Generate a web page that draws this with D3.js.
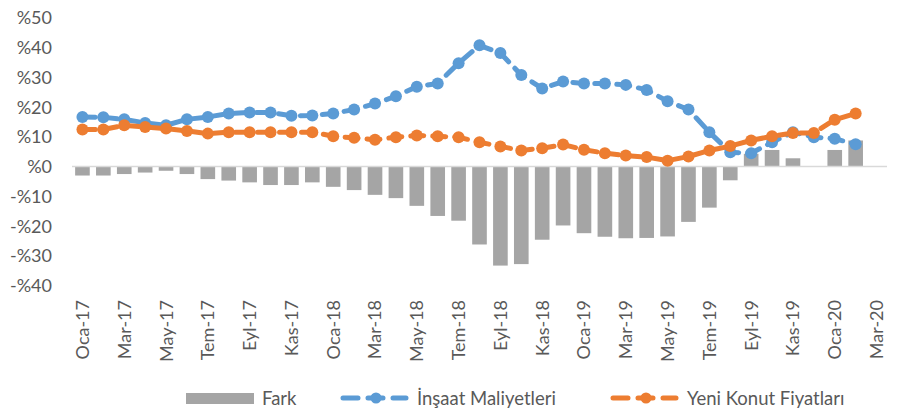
<!DOCTYPE html>
<html><head><meta charset="utf-8">
<script src="https://cdn.jsdelivr.net/npm/d3@7"></script>
<style>body{margin:0;background:#fff}svg{display:block}</style>
</head><body>
<svg id="c" width="912" height="410"></svg>
<script>
const months = ["Oca","Şub","Mar","Nis","May","Haz","Tem","Ağu","Eyl","Eki","Kas","Ara"];
const categories = [];
for (const yr of [17,18,19,20]) for (let m=0;m<12;m++){ if(yr===20 && m>2) break; categories.push(months[m]+"-"+yr); }

const fark = [-3.0,-3.0,-2.5,-2.0,-1.4,-2.5,-4.2,-4.7,-5.3,-6.2,-6.2,-5.3,
  -6.8,-7.9,-9.5,-10.6,-13.2,-16.6,-18.2,-26.2,-33.3,-32.8,-24.6,-19.8,
  -22.4,-23.6,-24.1,-24.0,-23.5,-18.6,-13.8,-4.6,4.3,5.6,2.8,0.2,5.6,8.8,null];
const insaat = [16.7,16.6,15.9,14.7,13.9,15.9,16.7,17.9,18.2,18.2,17.1,17.2,
  17.9,19.2,21.2,23.7,26.9,28.0,34.8,40.8,38.2,30.8,26.3,28.6,
  28.0,28.0,27.5,25.8,22.0,19.2,11.6,4.8,4.5,8.2,11.6,9.9,9.4,7.5,null];
const konut = [12.5,12.5,13.9,13.3,12.8,12.0,11.1,11.6,11.6,11.6,11.6,11.6,
  10.2,9.7,9.0,9.9,10.5,10.2,9.9,8.2,6.8,5.4,6.2,7.4,
  5.7,4.5,3.7,3.2,2.0,3.4,5.4,6.9,8.8,10.2,11.3,11.3,15.8,17.9,null];
const yTicks = [50,40,30,20,10,0,-10,-20,-30,-40];
const seriesNames = ["Fark","İnşaat Maliyetleri","Yeni Konut Fiyatları"];
const colors = {bar:"#a5a5a5", blue:"#5b9bd5", orange:"#ed7d31", text:"#595959", axis:"#d9d9d9"};

const svg = d3.select("#c");
const font = "Lato, 'Open Sans', sans-serif";
const x = d3.scaleBand().domain(categories).range([72, 887]).paddingInner(0.3).paddingOuter(0.15);
const xc = d => x(d) + x.bandwidth()/2;
const y = d3.scaleLinear().domain([-40, 50]).range([285.5, 18]);

// y labels
svg.append("g").selectAll("text").data(yTicks).join("text")
  .attr("x", 52).attr("y", d => y(d)).attr("dy", "0.36em")
  .attr("text-anchor", "end").attr("fill", colors.text)
  .style("font-family", font).style("font-size", "18px")
  .text(d => (d < 0 ? "-%" + (-d) : "%" + d));

// bars
svg.append("g").selectAll("rect").data(categories.map((c,i)=>({c, v:fark[i]})).filter(d=>d.v!==null)).join("rect")
  .attr("x", d => x(d.c)).attr("width", x.bandwidth())
  .attr("y", d => y(Math.max(0, d.v))).attr("height", d => Math.max(0.5, Math.abs(y(d.v) - y(0))))
  .attr("fill", colors.bar);

// zero axis
svg.append("line").attr("x1", 72).attr("x2", 887).attr("y1", y(0)).attr("y2", y(0))
  .attr("stroke", colors.axis).attr("stroke-width", 1.5);

// x labels
svg.append("g").selectAll("text").data(categories.filter((c,i)=>i%2===0)).join("text")
  .attr("transform", d => `translate(${xc(d)},300) rotate(-90)`)
  .attr("dy", "0.36em").attr("text-anchor", "end").attr("fill", colors.text)
  .style("font-family", font).style("font-size", "18px")
  .text(d => d);

function drawLine(vals, color){
  const pts = categories.map((c,i)=>({c, v:vals[i]})).filter(d=>d.v!==null);
  const line = d3.line().x(d=>xc(d.c)).y(d=>y(d.v));
  svg.append("path").datum(pts).attr("d", line).attr("fill","none")
    .attr("stroke", color).attr("stroke-width", 5)
    .attr("stroke-dasharray", "13 9").attr("stroke-linecap","round");
  svg.append("g").selectAll("circle").data(pts).join("circle")
    .attr("cx", d=>xc(d.c)).attr("cy", d=>y(d.v)).attr("r", 6).attr("fill", color);
}
drawLine(insaat, colors.blue);
drawLine(konut, colors.orange);

// legend
const lg = svg.append("g").style("font-family", font).style("font-size","18.5px").attr("fill", colors.text);
lg.append("rect").attr("x",186).attr("y",393).attr("width",68).attr("height",11).attr("fill",colors.bar);
lg.append("text").attr("x",262).attr("y",398.5).attr("dy","0.36em").text(seriesNames[0]);
function legLine(x0, col, label){
  lg.append("line").attr("x1",x0+3).attr("x2",x0+66).attr("y1",398).attr("y2",398)
    .attr("stroke",col).attr("stroke-width",5).attr("stroke-linecap","round").attr("stroke-dasharray","15 10");
  lg.append("circle").attr("cx",x0+36).attr("cy",398).attr("r",5.5).attr("fill",col);
  lg.append("text").attr("x",x0+77).attr("y",398.5).attr("dy","0.36em").text(label);
}
legLine(340, colors.blue, seriesNames[1]);
legLine(610, colors.orange, seriesNames[2]);
</script>
</body></html>
